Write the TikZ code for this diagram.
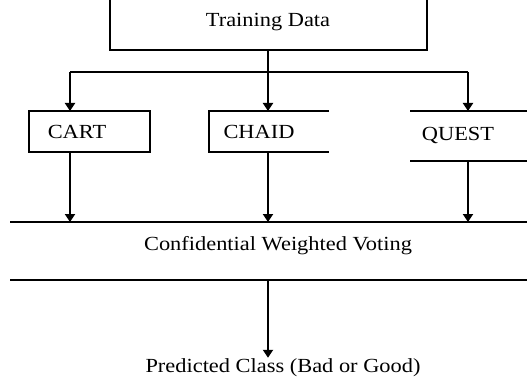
\documentclass[tikz,border=0pt]{standalone}
\usepackage{fontspec}
\setmainfont[FakeStretch=1.12]{Liberation Serif}
\usetikzlibrary{arrows.meta}

\begin{document}
\begin{tikzpicture}[x=0.75pt, y=-0.75pt, line width=1.7pt,
    arr/.style={-{Triangle[length=6pt,width=7.5pt]}},
    lbl/.style={font=\fontsize{15}{17}\selectfont, inner sep=0pt}]
    \useasboundingbox (0,0) rectangle (527,381);

    % training data box, open at the top
    \node[lbl] (train) at (268,22) {Training Data};
    \draw (110,0) -- (110,50) -- (427,50) -- (427,0);
    \coordinate (tbot) at (268,50);
    \coordinate (fork) at (268,72);
    \coordinate (forkL) at (70,72);
    \coordinate (forkR) at (468,72);

    % the three classifiers
    \node[lbl] (cart) at (77,132) {CART};
    \node[lbl] (chaid) at (259,132) {CHAID};
    \node[lbl] (quest) at (458,135) {QUEST};
    \draw (29,111) rectangle (150,152);
    \draw (329,111) -- (209,111) -- (209,152) -- (329,152);
    \draw (410,111) -- (527,111) (410,161) -- (527,161);
    \coordinate (cartT) at (70,111);   \coordinate (cartB) at (70,152);
    \coordinate (chaidT) at (268,111); \coordinate (chaidB) at (268,152);
    \coordinate (questT) at (468,111); \coordinate (questB) at (468,161);

    % voting band
    \draw (10,222) -- (527,222) (10,280) -- (527,280);
    \node[lbl] (vote) at (278,246) {Confidential Weighted Voting};
    \coordinate (voteL) at (70,222);
    \coordinate (voteM) at (268,222);
    \coordinate (voteR) at (468,222);
    \coordinate (voteB) at (268,280);

    \node[lbl] (pred) at (283,368) {Predicted Class (Bad or Good)};

    % Connections
    \draw (tbot) -- (fork);
    \draw (forkL) -- (forkR);
    \foreach \a/\b in {forkL/cartT, fork/chaidT, forkR/questT, cartB/voteL, chaidB/voteM, questB/voteR}
        \draw[arr] (\a) -- (\b);
    \draw[arr] (voteB) -- (pred.north -| voteB);
\end{tikzpicture}
\end{document}
